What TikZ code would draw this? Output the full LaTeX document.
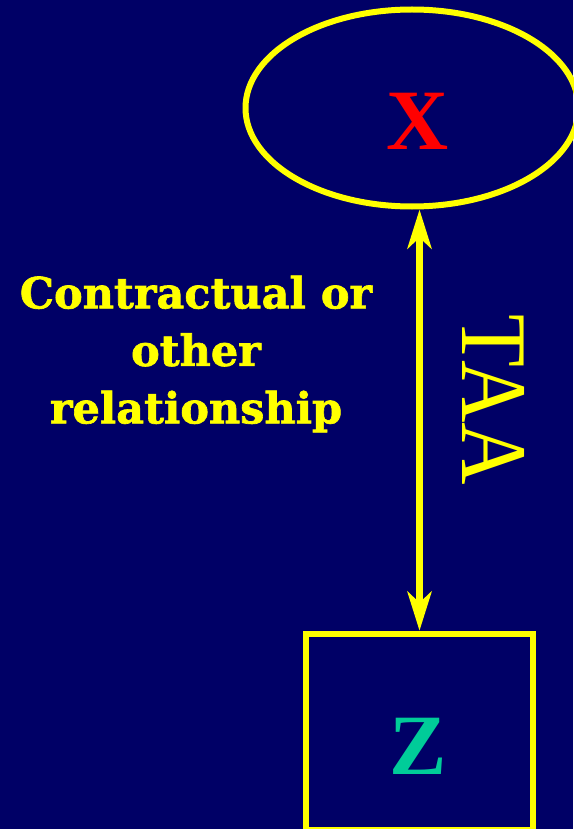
\documentclass[tikz,border=0pt]{standalone}
\usepackage{fontspec}
\setmainfont{Liberation Serif}
\newfontfamily\labelfont{DejaVu Serif Bold}[FakeBold=1.5]
\usetikzlibrary{shapes.geometric, arrows.meta, positioning}
\definecolor{navybg}{HTML}{000066}
\definecolor{slideyellow}{HTML}{FFFF00}
\definecolor{zteal}{HTML}{00CC99}
\tikzset{
    party/.style={ellipse, draw=slideyellow, line width=6pt, minimum width=333pt, minimum height=197pt, inner sep=0pt},
    partybox/.style={rectangle, draw=slideyellow, line width=6.5pt, minimum width=227pt, minimum height=196pt, inner sep=0pt},
    letter/.style={font=\bfseries\fontsize{86}{86}\selectfont, inner sep=0pt},
    relnote/.style={align=center, text=slideyellow, font=\labelfont\fontsize{43}{57.5}\selectfont},
    link/.style={draw=slideyellow, line width=7.5pt, {Stealth[length=39pt, width=24pt, inset=11pt]}-{Stealth[length=39pt, width=24pt, inset=11pt]}}
}
\begin{document}
\begin{tikzpicture}[x=1pt, y=-1pt]
    % Background
    \fill[navybg] (0,0) rectangle (573,829);
    \useasboundingbox (0,0) rectangle (573,829);

    % Parties
    \node[party] (xparty) at (412,108) {};
    \node[letter, text=red] (xname) at (418,121) {X};
    \node[partybox] (zparty) at (419.5,732) {};
    \node[letter, text=zteal] (zname) at (418,746) {Z};

    % Relationship
    \draw[link] (zparty.north) -- (zparty.north |- xparty.south);
    \node[relnote] (note) at (196,354) {Contractual or\\other\\relationship};
    \node[text=slideyellow, rotate=-90, xscale=0.92, inner sep=0pt, font=\fontsize{94}{94}\selectfont] (taa) at (494,400) {TAA};
\end{tikzpicture}
\end{document}
